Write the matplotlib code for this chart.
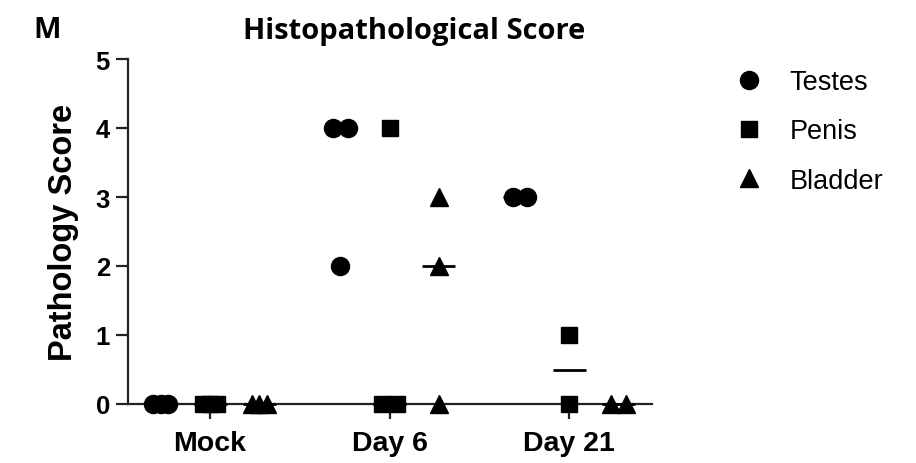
import numpy as np
import matplotlib.pyplot as plt
from matplotlib.lines import Line2D

# data
groups = ["Mock", "Day 6", "Day 21"]
tissues = ["Testes", "Penis", "Bladder"]
markers = ["o", "s", "^"]
marker_sizes = [13, 12, 12.5]

testes = [[0, 0, 0], [4, 4, 2], [3, 3]]
penis = [[0, 0, 0], [4, 0, 0], [1, 0]]
bladder = [[0, 0, 0], [3, 2, 0], [0, 0]]
scores = [testes, penis, bladder]

tissue_offset = 0.274   # spacing of tissues inside a group
dup_spread = 0.082      # total width used for tied values
median_half = 0.092

fig = plt.figure(figsize=(9.16, 4.64), dpi=100)
ax = fig.add_axes([128 / 916, 1 - 405 / 464, (652 - 128) / 916, (405 - 60) / 464])

for t, tissue in enumerate(tissues):
    for g, vals in enumerate(scores[t]):
        xc = g + (t - 1) * tissue_offset
        vals = np.array(vals, dtype=float)
        xs = np.zeros_like(vals)
        # spread tied values side by side
        for v in np.unique(vals):
            idx = np.where(vals == v)[0]
            if len(idx) > 1:
                xs[idx] = np.linspace(-dup_spread / 2, dup_spread / 2, len(idx))
        med = np.median(vals)
        ax.plot([xc - median_half, xc + median_half], [med, med], color="black",
                lw=2.0, zorder=3, clip_on=False, solid_capstyle="butt")
        ax.plot(xc + xs, vals, linestyle="none", marker=markers[t],
                ms=marker_sizes[t], color="black", mec="black", zorder=4, clip_on=False)

ax.set_xlim(-0.457, 2.462)
ax.set_ylim(0, 5)
ax.set_yticks(range(6))
ax.set_xticks(range(len(groups)))
ax.set_xticklabels(groups)

for s in ["top", "right"]:
    ax.spines[s].set_visible(False)
for s in ["left", "bottom"]:
    ax.spines[s].set_linewidth(1.6)
    ax.spines[s].set_color("#222222")
    ax.spines[s].set_zorder(2)

ax.tick_params(axis="both", direction="out", width=1.6, color="#222222")
ax.tick_params(axis="y", labelsize=18.5, pad=4, length=9)
ax.tick_params(axis="x", labelsize=20.5, pad=8, length=11)
for lab in ax.get_xticklabels() + ax.get_yticklabels():
    lab.set_fontfamily("Liberation Sans")
    lab.set_fontweight("bold")

ax.set_ylabel("Pathology Score", fontsize=23.5, fontweight="bold",
              family="Liberation Sans", labelpad=12)

fig.text(414 / 916, 1 - 31 / 464, "Histopathological Score", ha="center", va="center",
         fontsize=21, fontweight="bold", family="Open Sans")
fig.text(47 / 916, 1 - 31 / 464, "M", ha="center", va="center",
         fontsize=21, fontweight="bold", family="Open Sans")

handles = [Line2D([], [], linestyle="none", marker=m, ms=ms, color="black")
           for m, ms in zip(markers, marker_sizes)]
fig.legend(handles, tissues, loc="upper left", bbox_to_anchor=(733 / 916, 1 - 70 / 464),
           frameon=False, prop={"family": "Liberation Sans", "size": 19.5},
           handletextpad=0.9, labelspacing=0.86, handlelength=1.2, borderaxespad=0,
           borderpad=0)

fig.savefig("out.png", dpi=100)
